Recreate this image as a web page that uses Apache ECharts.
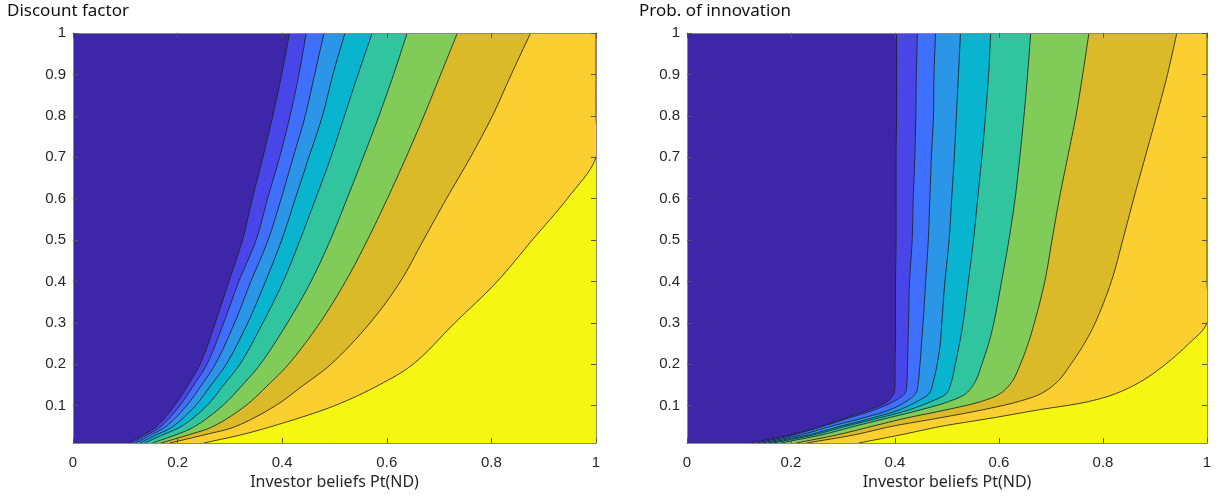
<!DOCTYPE html>
<html>
<head>
<meta charset="utf-8">
<script src="https://cdn.jsdelivr.net/npm/echarts@6/dist/echarts.min.js"></script>
<style>
  body { margin: 0; background: #fff; }
  #chart { width: 1222px; height: 496px; }
</style>
</head>
<body>
<div id="chart"></div>
<script>
// tick labels
const xTicks = [0, 0.2, 0.4, 0.6, 0.8, 1];
const yTicks = [0.1, 0.2, 0.3, 0.4, 0.5, 0.6, 0.7, 0.8, 0.9, 1];

// left panel: contour boundaries (x of each level line at the y levels below)
const dfY = [1, 0.9, 0.8, 0.7, 0.6, 0.5, 0.4, 0.3, 0.2, 0.15, 0.1, 0.05, 0.03, 0.01];
const df1 = [0.414, 0.399, 0.382, 0.363, 0.343, 0.324, 0.298, 0.272, 0.243, 0.220, 0.194, 0.160, 0.135, 0.106];
const df2 = [0.446, 0.432, 0.415, 0.395, 0.372, 0.350, 0.317, 0.288, 0.256, 0.231, 0.204, 0.168, 0.142, 0.113];
const df3 = [0.480, 0.462, 0.444, 0.421, 0.398, 0.373, 0.340, 0.309, 0.272, 0.246, 0.217, 0.178, 0.150, 0.120];
const df4 = [0.520, 0.497, 0.477, 0.451, 0.425, 0.399, 0.368, 0.334, 0.293, 0.264, 0.234, 0.191, 0.160, 0.128];
const df5 = [0.572, 0.545, 0.519, 0.493, 0.464, 0.434, 0.402, 0.363, 0.319, 0.288, 0.256, 0.207, 0.172, 0.137];
const df6 = [0.639, 0.613, 0.585, 0.555, 0.524, 0.492, 0.455, 0.410, 0.358, 0.324, 0.286, 0.233, 0.197, 0.152];
const df7 = [0.735, 0.703, 0.671, 0.637, 0.601, 0.563, 0.521, 0.472, 0.412, 0.373, 0.330, 0.268, 0.222, 0.168];
const df8 = [0.875, 0.838, 0.802, 0.760, 0.714, 0.670, 0.626, 0.568, 0.493, 0.441, 0.387, 0.311, 0.252, 0.185];
const df9 = [1, 1, 1, 1, 0.945, 0.878, 0.811, 0.730, 0.650, 0.585, 0.500, 0.380, 0.322, 0.250];

// right panel
const piY = [1, 0.9, 0.8, 0.7, 0.6, 0.5, 0.4, 0.3, 0.25, 0.2, 0.16, 0.13, 0.11, 0.09, 0.07, 0.05, 0.03, 0.01];
const pi1 = [0.403, 0.403, 0.403, 0.402, 0.402, 0.402, 0.401, 0.401, 0.401, 0.400, 0.400, 0.398, 0.385, 0.350, 0.303, 0.256, 0.200, 0.120];
const pi2 = [0.443, 0.441, 0.440, 0.438, 0.435, 0.433, 0.428, 0.426, 0.425, 0.424, 0.423, 0.419, 0.397, 0.360, 0.311, 0.260, 0.206, 0.135];
const pi3 = [0.478, 0.475, 0.474, 0.470, 0.467, 0.464, 0.459, 0.454, 0.451, 0.448, 0.445, 0.440, 0.421, 0.390, 0.337, 0.276, 0.220, 0.145];
const pi4 = [0.526, 0.522, 0.518, 0.514, 0.509, 0.504, 0.496, 0.490, 0.487, 0.481, 0.474, 0.466, 0.442, 0.408, 0.355, 0.294, 0.235, 0.155];
const pi5 = [0.584, 0.580, 0.574, 0.567, 0.559, 0.551, 0.541, 0.531, 0.524, 0.516, 0.509, 0.499, 0.469, 0.427, 0.368, 0.304, 0.245, 0.165];
const pi6 = [0.661, 0.655, 0.648, 0.640, 0.631, 0.619, 0.605, 0.590, 0.580, 0.567, 0.555, 0.537, 0.503, 0.449, 0.385, 0.321, 0.260, 0.180];
const pi7 = [0.773, 0.761, 0.748, 0.732, 0.716, 0.702, 0.688, 0.668, 0.656, 0.641, 0.626, 0.603, 0.565, 0.498, 0.421, 0.355, 0.290, 0.210];
const pi8 = [0.942, 0.924, 0.903, 0.881, 0.859, 0.838, 0.816, 0.785, 0.764, 0.738, 0.714, 0.682, 0.637, 0.568, 0.483, 0.393, 0.323, 0.230];
const pi9 = [1, 1, 1, 1, 1, 1, 1, 1, 0.965, 0.920, 0.875, 0.826, 0.772, 0.676, 0.585, 0.488, 0.412, 0.330];

const discountLines = [df1, df2, df3, df4, df5, df6, df7, df8, df9];
const innovLines = [pi1, pi2, pi3, pi4, pi5, pi6, pi7, pi8, pi9];

// parula-like band colours, left to right
const bandColors = ['#3d26a8', '#4846e8', '#3e6ffd', '#2b95e8', '#09b4cf', '#31c59f',
                    '#81cb58', '#dbba2a', '#fbcf2f', '#f6f613'];

const textColor = '#262626';
const boxColor = '#8a8a8a';

// centripetal catmull-rom through the projected points, so the level lines look smooth
function smoothPath(p) {
  if (p.length < 3) return p;
  const ext = [[2 * p[0][0] - p[1][0], 2 * p[0][1] - p[1][1]]].concat(p)
    .concat([[2 * p[p.length - 1][0] - p[p.length - 2][0], 2 * p[p.length - 1][1] - p[p.length - 2][1]]]);
  const out = [];
  const lerp = (a, b, ta, tb, t) => {
    const d = tb - ta || 1e-6;
    return [(tb - t) / d * a[0] + (t - ta) / d * b[0], (tb - t) / d * a[1] + (t - ta) / d * b[1]];
  };
  const dist = (a, b) => Math.pow(Math.hypot(b[0] - a[0], b[1] - a[1]) + 1e-6, 0.5);
  for (let i = 1; i < ext.length - 2; i++) {
    const P0 = ext[i - 1], P1 = ext[i], P2 = ext[i + 1], P3 = ext[i + 2];
    const t0 = 0, t1 = t0 + dist(P0, P1), t2 = t1 + dist(P1, P2), t3 = t2 + dist(P2, P3);
    const steps = 8;
    for (let s = 0; s < steps; s++) {
      const t = t1 + (t2 - t1) * s / steps;
      const A1 = lerp(P0, P1, t0, t1, t), A2 = lerp(P1, P2, t1, t2, t), A3 = lerp(P2, P3, t2, t3, t);
      const B1 = lerp(A1, A2, t0, t2, t), B2 = lerp(A2, A3, t1, t3, t);
      out.push(lerp(B1, B2, t1, t2, t));
    }
  }
  out.push(p[p.length - 1]);
  return out;
}

function contourRender(yLevels, lines) {
  const bounds = [yLevels.map(() => 0)].concat(lines).concat([yLevels.map(() => 1)]);
  return function (params, api) {
    const k = api.value(0);
    const a = smoothPath(bounds[k].map((x, i) => api.coord([x, yLevels[i]])));
    const b = smoothPath(bounds[k + 1].map((x, i) => api.coord([x, yLevels[i]])));
    const pts = a.concat(b.slice().reverse());
    const children = [{
      type: 'polygon',
      shape: { points: pts },
      style: { fill: bandColors[k], stroke: bandColors[k], lineWidth: 0.6 }
    }];
    if (k > 0) {
      children.push({
        type: 'polyline',
        shape: { points: a },
        style: { stroke: '#141414', lineWidth: 0.8, fill: null }
      });
    }
    return { type: 'group', children: children };
  };
}

function xAxes(g) {
  return [{
    gridIndex: g, type: 'value', min: 0, max: 1, interval: 0.2, position: 'bottom', z: 10,
    axisLine: { show: true, lineStyle: { color: boxColor, width: 1 } },
    axisTick: { show: true, inside: true, length: 5, lineStyle: { color: '#555' } },
    axisLabel: { color: textColor, fontSize: 15, margin: 12, fontFamily: 'Liberation Sans' },
    splitLine: { show: false },
    name: 'Investor beliefs Pt(ND)', nameLocation: 'middle', nameGap: 22,
    nameTextStyle: { color: textColor, fontSize: 16, fontFamily: 'Noto Sans' }
  }, {
    gridIndex: g, type: 'value', min: 0, max: 1, interval: 0.2, position: 'top', z: 10,
    axisLine: { show: true, onZero: false, lineStyle: { color: boxColor, width: 1 } },
    axisTick: { show: true, inside: true, length: 5, lineStyle: { color: '#555' } },
    axisLabel: { show: false },
    splitLine: { show: false }
  }];
}

function yAxes(g) {
  return [{
    gridIndex: g, type: 'value', min: 0.01, max: 1, position: 'left', z: 10,
    axisLine: { show: true, onZero: false, lineStyle: { color: boxColor, width: 1 } },
    axisTick: { show: true, inside: true, length: 5, customValues: yTicks, lineStyle: { color: '#555' } },
    axisLabel: { color: textColor, fontSize: 15, margin: 7, customValues: yTicks, fontFamily: 'Liberation Sans' },
    splitLine: { show: false }
  }, {
    gridIndex: g, type: 'value', min: 0.01, max: 1, position: 'right', z: 10,
    axisLine: { show: true, onZero: false, lineStyle: { color: boxColor, width: 1 } },
    axisTick: { show: true, inside: true, length: 5, customValues: yTicks, lineStyle: { color: '#555' } },
    axisLabel: { show: false },
    splitLine: { show: false }
  }];
}

const chart = echarts.init(document.getElementById('chart'));
chart.setOption({
  animation: false,
  backgroundColor: '#fff',
  title: [
    { text: 'Discount factor', left: 2, top: -2,
      textStyle: { fontSize: 17, fontWeight: 'normal', color: '#111', fontFamily: 'Noto Sans' } },
    { text: 'Prob. of innovation', left: 634, top: -2,
      textStyle: { fontSize: 17, fontWeight: 'normal', color: '#111', fontFamily: 'Noto Sans' } }
  ],
  grid: [
    { left: 73, top: 33, width: 523, height: 410, outerBoundsMode: 'none', containLabel: false },
    { left: 687, top: 33, width: 520, height: 410, outerBoundsMode: 'none', containLabel: false }
  ],
  xAxis: xAxes(0).concat(xAxes(1)),
  yAxis: yAxes(0).concat(yAxes(1)),
  series: [{
    type: 'custom', xAxisIndex: 0, yAxisIndex: 0, silent: true, clip: true,
    renderItem: contourRender(dfY, discountLines),
    data: bandColors.map((c, k) => [k])
  }, {
    type: 'custom', xAxisIndex: 2, yAxisIndex: 2, silent: true, clip: true,
    renderItem: contourRender(piY, innovLines),
    data: bandColors.map((c, k) => [k])
  }]
});
</script>
</body>
</html>
